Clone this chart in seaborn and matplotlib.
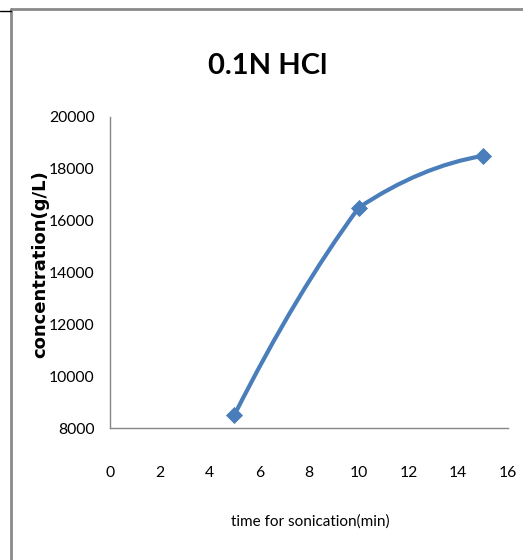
import matplotlib
matplotlib.use("Agg")
import matplotlib.pyplot as plt
import seaborn as sns
import numpy as np
import pandas as pd
from matplotlib.path import Path
from matplotlib.patches import PathPatch
from matplotlib.lines import Line2D

title = "0.1N HCl"
x_label = "time for sonication(min)"
y_label = "concentration(g/L)"
time_min = [5, 10, 15]
concentration = [8500, 16500, 18500]
x_ticks = [0, 2, 4, 6, 8, 10, 12, 14, 16]
y_ticks = [8000, 10000, 12000, 14000, 16000, 18000, 20000]

sns.set_theme(style="white")
main_font = ["Lato", "DejaVu Sans"]
plt.rcParams['font.family'] = main_font

color = "#4A7EBB"
df = pd.DataFrame({"time": time_min, "conc": concentration})

fig = plt.figure(figsize=(5.23, 5.60), dpi=100)
ax = fig.add_axes([0.2103, 0.2357, 0.761, 0.5554])
ax.set_xlim(0, 16)
ax.set_ylim(8000, 20000)

# smoothed line through the data points (cubic Bezier, computed in display space)
P = ax.transData.transform(np.column_stack([df["time"].to_numpy(float),
                                            df["conc"].to_numpy(float)]))
n = len(P)
seg_slope = [(P[i + 1, 1] - P[i, 1]) / (P[i + 1, 0] - P[i, 0]) for i in range(n - 1)]
m_in = [None] * n
m_out = [None] * n
for i in range(1, n - 1):
    cr = (P[i + 1, 1] - P[i - 1, 1]) / (P[i + 1, 0] - P[i - 1, 0])
    s_a, s_b = seg_slope[i - 1], seg_slope[i]
    m_in[i] = 0.5 * (s_a + cr)
    m_out[i] = 2.0 / (1.0 / s_a + 1.0 / s_b)
m_out[0] = 2 * seg_slope[0] - m_in[1]
m_in[n - 1] = 2 * seg_slope[-1] - m_out[n - 2]
verts = [P[0]]
codes = [Path.MOVETO]
for i in range(n - 1):
    dx = (P[i + 1, 0] - P[i, 0]) / 3.0
    c1 = P[i] + np.array([dx, m_out[i] * dx])
    c2 = P[i + 1] - np.array([dx, m_in[i + 1] * dx])
    verts += [c1, c2, P[i + 1]]
    codes += [Path.CURVE4] * 3
verts_data = ax.transData.inverted().transform(np.array(verts))
ax.add_patch(PathPatch(Path(verts_data, codes), facecolor="none", edgecolor=color,
                       lw=3.0, transform=ax.transData, zorder=2, capstyle="round"))

sns.scatterplot(data=df, x="time", y="conc", marker="D", s=65, color=color,
                edgecolor=color, ax=ax, zorder=3, legend=False)

ax.set_xlim(0, 16)
ax.set_ylim(8000, 20000)
ax.set_xticks(x_ticks)
ax.set_yticks(y_ticks)
ax.set_xticklabels([str(t) for t in x_ticks])
ax.set_yticklabels([str(t) for t in y_ticks])
ax.tick_params(axis="both", length=0, labelsize=11.3, colors="#000000")
ax.tick_params(axis="x", pad=27)
ax.tick_params(axis="y", pad=11)
for lab in ax.get_xticklabels() + ax.get_yticklabels():
    lab.set_family(main_font)

for side in ["top", "right"]:
    ax.spines[side].set_visible(False)
for side in ["left", "bottom"]:
    ax.spines[side].set_color("#868686")
    ax.spines[side].set_linewidth(1.0)

ax.set_xlabel(x_label, fontsize=11, family=main_font, color="black")
ax.xaxis.set_label_coords(0.503, -0.278)
ax.set_ylabel(y_label, fontsize=13, family=["DejaVu Sans"], fontweight="bold",
              color="black", va="center")
ax.yaxis.set_label_coords(-0.175, 0.527)

fig.text(0.512, 0.882, title, ha="center", va="center", fontsize=21,
         fontweight="bold", family=main_font, color="black")

# frame
fig.add_artist(Line2D([11/523, 11/523], [0, 1 - 9/560], transform=fig.transFigure,
                      color="#8a8a8a", lw=2))
fig.add_artist(Line2D([11/523, 1], [1 - 9/560, 1 - 9/560], transform=fig.transFigure,
                      color="#8a8a8a", lw=2))
fig.add_artist(Line2D([0, 11/523], [1 - 11/560, 1 - 11/560], transform=fig.transFigure,
                      color="black", lw=1))

fig.savefig("out.png", dpi=100)
